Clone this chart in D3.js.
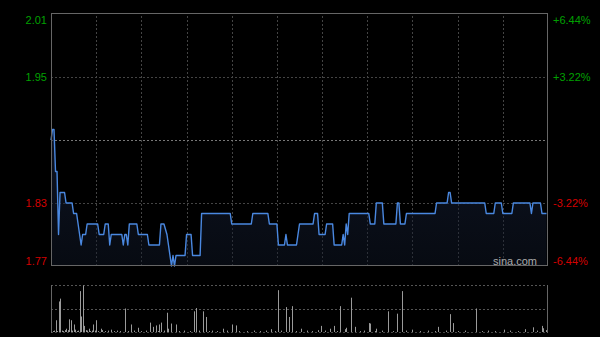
<!DOCTYPE html>
<html><head><meta charset="utf-8">
<script src="https://cdn.jsdelivr.net/npm/d3@7/dist/d3.min.js"></script>
<style>
html,body{margin:0;padding:0;background:#000;}
svg{display:block;}
text{font-family:Arial,"Liberation Sans",sans-serif;}
</style></head>
<body>
<svg id="c" width="600" height="337"></svg>
<script>
// ---- data ----
const priceTicks = [2.01, 1.95, 1.89, 1.83, 1.77];
const leftLabels = ["2.01", "1.95", "", "1.83", "1.77"];
const rightLabels = ["+6.44%", "+3.22%", "", "-3.22%", "-6.44%"];
const timeGridMinutes = [30, 60, 90, 120, 150, 180, 210, 240, 270, 300];

const priceMinutes = [0,1,2,3,4,5,6,9,10,14,15,17,19,20,21,23,24,31,32,35,36,38,39,40,47,48,49,50,51,52,57,58,64,65,72,73,75,77,78,80,81,82,83,89,90,93,94,99,100,119,120,133,134,144,145,150,151,155,156,157,163,165,174,175,177,178,182,183,187,188,193,194,195,196,197,198,211,212,215,216,220,221,229,230,231,232,235,236,255,256,263,264,265,266,288,289,294,295,299,300,306,307,318,319,320,325,326,329];
const prices = [1.89,1.90,1.90,1.86,1.86,1.80,1.84,1.84,1.83,1.83,1.82,1.82,1.80,1.79,1.80,1.80,1.81,1.81,1.80,1.80,1.81,1.81,1.79,1.80,1.80,1.79,1.80,1.80,1.79,1.81,1.81,1.80,1.80,1.79,1.79,1.81,1.81,1.80,1.79,1.77,1.78,1.77,1.78,1.78,1.80,1.80,1.78,1.78,1.82,1.82,1.81,1.81,1.82,1.82,1.81,1.81,1.79,1.79,1.80,1.79,1.79,1.81,1.81,1.82,1.82,1.80,1.80,1.81,1.81,1.79,1.79,1.80,1.79,1.81,1.80,1.82,1.82,1.81,1.81,1.83,1.83,1.81,1.81,1.83,1.83,1.81,1.81,1.82,1.82,1.83,1.83,1.84,1.84,1.83,1.83,1.82,1.82,1.83,1.83,1.82,1.82,1.83,1.83,1.82,1.83,1.83,1.82,1.82];

const volMinutes = [1,2,3,4,5,6,7,8,9,10,11,12,13,14,15,16,17,18,19,20,21,22,23,24,25,26,27,28,29,30,31,33,34,36,38,40,42,44,46,49,51,53,55,58,60,63,66,68,70,71,72,73,75,77,78,80,83,85,88,92,95,96,98,101,103,105,107,110,114,117,120,123,125,130,135,139,143,146,149,151,153,156,158,160,163,166,170,173,177,179,182,185,188,190,192,195,196,199,202,205,208,211,212,215,216,220,224,227,230,233,236,240,245,250,255,257,262,265,267,270,275,282,286,290,295,301,305,310,315,320,323,326,327,329];
const volValues = [2,3,25,2,65,71,3,2,4,7,4,27,25,3,16,5,2,3,87,33,99,13,4,3,7,2,3,16,3,25,2,7,4,2,3,5,2,3,2,50,2,16,3,9,2,3,20,11,14,2,16,20,3,41,7,18,16,2,3,2,44,51,3,44,32,2,3,2,7,3,16,14,2,2,3,2,3,6,2,89,3,53,32,55,2,7,3,2,4,13,3,7,13,2,55,6,9,73,11,2,3,19,18,2,7,3,44,2,39,87,3,5,2,3,2,11,3,38,19,2,3,50,2,3,2,5,3,2,6,10,3,13,8,4];

// ---- layout ----
const svg = d3.select("#c");
const L = 51, R = 548, T = 14, B = 266;
const VT = 285, VB = 332;

const x = d3.scaleLinear().domain([0, 330]).range([L, R]);
const y = d3.scaleLinear().domain([1.77, 2.01]).range([B, T]);
const yv = d3.scaleLinear().domain([0, 100]).range([VB, VT]);

const gridCol = "#444";

// area gradient
const defs = svg.append("defs");
const grad = defs.append("linearGradient").attr("id","ag").attr("x1",0).attr("y1",0).attr("x2",0).attr("y2",1);
grad.append("stop").attr("offset","0%").attr("stop-color","#1a2440").attr("stop-opacity",0.55);
grad.append("stop").attr("offset","100%").attr("stop-color","#101828").attr("stop-opacity",0.45);

// vertical grid (main)
svg.append("g").attr("transform",`translate(0,${B})`)
  .call(d3.axisBottom(x).tickValues(timeGridMinutes).tickSize(-(B-T)).tickFormat(""))
  .call(g=>g.select(".domain").remove())
  .call(g=>g.selectAll(".tick line").attr("stroke",gridCol).attr("stroke-dasharray","2,2").attr("shape-rendering","crispEdges"));

// horizontal grid (main)
svg.append("g").attr("transform",`translate(${L},0)`)
  .call(d3.axisRight(y).tickValues([1.95,1.89,1.83]).tickSize(R-L).tickFormat(""))
  .call(g=>g.select(".domain").remove())
  .call(g=>g.selectAll(".tick line").attr("stroke",(d)=>d===1.89?"#777":gridCol).attr("stroke-dasharray","2,2").attr("shape-rendering","crispEdges"));

// area + line
const pts = priceMinutes.map((m,i)=>[m, prices[i]]);
svg.append("path").datum(pts)
  .attr("d", d3.area().x(d=>x(d[0])).y0(B).y1(d=>y(d[1])))
  .attr("fill","url(#ag)");
svg.append("path").datum(pts)
  .attr("d", d3.line().x(d=>x(d[0])).y(d=>y(d[1])))
  .attr("fill","none").attr("stroke","#4a88e0").attr("stroke-width",1.4).attr("stroke-linejoin","round");

// frame main
svg.append("rect").attr("x",L+0.5).attr("y",T-0.5).attr("width",R-L-1).attr("height",B-T)
  .attr("fill","none").attr("stroke","#666").attr("stroke-width",1).attr("shape-rendering","crispEdges");

// labels
const axL = svg.append("g").attr("transform",`translate(${L-4},0)`)
  .call(d3.axisLeft(y).tickValues(priceTicks).tickSize(0).tickPadding(0).tickFormat((d,i)=>leftLabels[i]));
const axR = svg.append("g").attr("transform",`translate(${R+5},0)`)
  .call(d3.axisRight(y).tickValues(priceTicks).tickSize(0).tickPadding(0).tickFormat((d,i)=>rightLabels[i]));
[axL, axR].forEach(g=>{
  g.select(".domain").remove();
  g.selectAll(".tick text")
    .attr("font-size","11px")
    .attr("font-family","Arial, 'Liberation Sans', sans-serif")
    .attr("fill",d=>d>1.89?"#00a000":"#d40000")
    .attr("dy",d=>d===2.01?"0.85em":(d===1.77?"-0.15em":"0.32em"));
});

// watermark
svg.append("text").attr("x",537).attr("y",265).attr("text-anchor","end")
  .attr("font-size","11px").attr("fill","#aaa").text("sina.com");

// volume panel grid
svg.append("g").attr("transform",`translate(${L},0)`)
  .call(d3.axisRight(yv).tickValues([50,100]).tickSize(R-L).tickFormat(""))
  .call(g=>g.select(".domain").remove())
  .call(g=>g.selectAll(".tick line").attr("stroke","#555").attr("stroke-dasharray","2,2").attr("shape-rendering","crispEdges"));
svg.append("line").attr("x1",L).attr("x2",R).attr("y1",VB+0.5).attr("y2",VB+0.5)
  .attr("stroke","#444").attr("stroke-dasharray","2,2");
svg.append("line").attr("x1",L+0.5).attr("x2",L+0.5).attr("y1",VT).attr("y2",VB+1).attr("stroke","#666");
svg.append("line").attr("x1",R-0.5).attr("x2",R-0.5).attr("y1",VT).attr("y2",VB+1).attr("stroke","#666");

// volume bars
svg.append("g").selectAll("rect").data(volMinutes.map((m,i)=>[m, volValues[i]])).join("rect")
  .attr("x",d=>Math.round(x(d[0])))
  .attr("width",1)
  .attr("y",d=>yv(d[1]))
  .attr("height",d=>VB-yv(d[1]))
  .attr("fill","#9a9a9a");
</script>
</body></html>
